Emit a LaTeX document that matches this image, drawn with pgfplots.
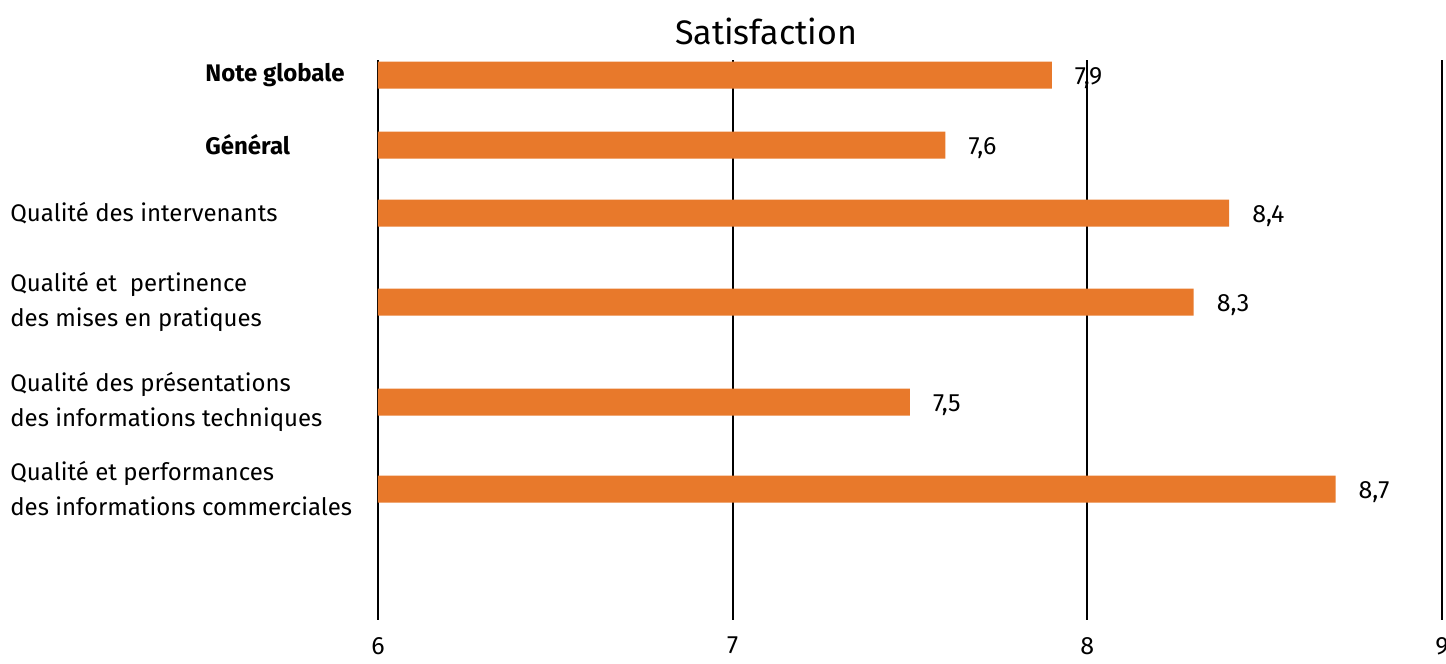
\documentclass[border=0pt]{standalone}
\usepackage{fontspec}
\setmainfont{Fira Sans}
\usepackage{pgfplots}
\pgfplotsset{compat=1.18}
\definecolor{barorange}{HTML}{E8792B}

\begin{document}
\begin{tikzpicture}
% page = 1446 x 664 px, 1 px = 0.5pt ; axis box from px (378,60) to (1442,620)
\useasboundingbox (-189pt,-22pt) rectangle (534pt,310pt);
\begin{axis}[
    scale only axis,
    width=532pt, height=280pt,
    xmin=6, xmax=9,
    ymin=0, ymax=560,
    y dir=reverse,
    xtick={6,7,8,9},
    ytick={15,85,153,242,342,429},
    yticklabels={
      {\hspace*{97.5pt}\bfseries Note globale},
      {\hspace*{97.5pt}\bfseries Général},
      {Qualité des intervenants},
      {Qualité et\ \ pertinence\\des mises en pratiques},
      {Qualité des présentations\\des informations techniques},
      {Qualité et performances\\des informations commerciales}},
    yticklabel style={anchor=west, align=left, inner xsep=0pt, xshift=-184pt,
                      font=\fontsize{12}{17.5}\selectfont},
    xticklabel style={font=\fontsize{12.5}{15}\selectfont, yshift=-5pt},
    /pgf/number format/assume math mode=true,
    axis line style={draw=none},
    major tick length=0pt,
    xmajorgrids,
    major grid style={black, line width=1pt},
    title={Satisfaction},
    title style={font=\fontsize{17}{20}\selectfont, yshift=-2pt, xshift=-72pt},
    xbar, bar width=13.5pt,
    nodes near coords={\pgfmathprintnumber[use comma,fixed,precision=1,fixed zerofill]{\pgfplotspointmeta}},
    nodes near coords style={anchor=west, xshift=8pt, yshift=-1.5pt, font=\fontsize{12.5}{15}\selectfont},
  ]
  \addplot[fill=barorange, draw=none, xbar, bar shift=0pt] coordinates {
    (7.9,15)
    (7.6,85)
    (8.4,153)
    (8.3,242)
    (7.5,342)
    (8.7,429)
  };
\end{axis}
\end{tikzpicture}
\end{document}
